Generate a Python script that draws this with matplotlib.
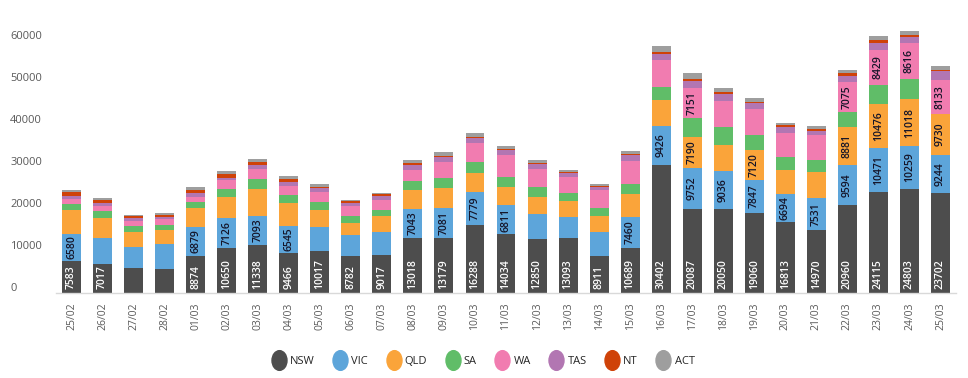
import matplotlib
matplotlib.use("Agg")
import matplotlib.pyplot as plt
from matplotlib.lines import Line2D
from matplotlib.markers import MarkerStyle
from matplotlib.transforms import Affine2D, ScaledTranslation
import numpy as np

dates = ['25/02', '26/02', '27/02', '28/02', '01/03', '02/03', '03/03', '04/03', '05/03', '06/03',
         '07/03', '08/03', '09/03', '10/03', '11/03', '12/03', '13/03', '14/03', '15/03', '16/03',
         '17/03', '18/03', '19/03', '20/03', '21/03', '22/03', '23/03', '24/03', '25/03']

NSW = [7583, 7017, 5950, 5700, 8874, 10650, 11338, 9466, 10017, 8782, 9017, 13018, 13179, 16288, 14034,
       12850, 13093, 8911, 10689, 30402, 20087, 20050, 19060, 16813, 14970, 20960, 24115, 24803, 23702]
VIC = [6580, 6000, 5000, 5950, 6879, 7126, 7093, 6545, 5800, 4920, 5470, 7043, 7081, 7779, 6811,
       5950, 5000, 5550, 7460, 9426, 9752, 9036, 7847, 6694, 7531, 9594, 10471, 10259, 9244]
QLD = [5500, 4800, 3570, 3400, 4600, 5000, 6350, 5400, 4050, 2940, 3890, 4360, 4760, 4520, 4360,
       4120, 3810, 3810, 5470, 6190, 7190, 6190, 7120, 5710, 6270, 8881, 10476, 11018, 9730]
SA = [1600, 1600, 1400, 1190, 1430, 2000, 2300, 1900, 1900, 1590, 1430, 2140, 2380, 2620, 2460,
      2220, 1830, 2060, 2300, 3020, 4520, 4200, 3490, 3250, 3010, 3650, 4440, 4760, 0]
WA = [1200, 1350, 1300, 1270, 1190, 2060, 2380, 2140, 2380, 2460, 2300, 2780, 3810, 4600, 5160,
      4440, 3970, 4120, 5550, 6350, 7151, 6350, 6190, 5710, 5790, 7075, 8429, 8616, 8133]
TAS = [700, 550, 550, 480, 800, 630, 1110, 950, 800, 630, 1030, 1110, 1190, 1110, 1110,
       1110, 950, 800, 1270, 1590, 1750, 1590, 1590, 1430, 1110, 1430, 1670, 1400, 1990]
NT = [800, 800, 480, 550, 800, 950, 710, 800, 400, 480, 400, 480, 200, 320, 320,
      320, 100, 320, 400, 480, 400, 400, 240, 320, 400, 710, 550, 500, 400]
ACT = [450, 400, 400, 400, 630, 710, 630, 630, 630, 320, 320, 630, 950, 800, 630,
       550, 630, 400, 630, 1270, 1430, 950, 950, 630, 630, 800, 1110, 1000, 800]

series_names = ['NSW', 'VIC', 'QLD', 'SA', 'WA', 'TAS', 'NT', 'ACT']
series_values = [NSW, VIC, QLD, SA, WA, TAS, NT, ACT]
colors = ['#4d4d4d', '#5da5da', '#faa43a', '#60bd68', '#f17cb0', '#b276b2', '#cf4208', '#9e9e9e']
label_threshold = 6500

plt.rcParams['font.family'] = ['Open Sans', 'DejaVu Sans']

fig = plt.figure(figsize=(9.68, 3.78), dpi=100)
ax = fig.add_axes([56 / 968, 85 / 378, 900 / 968, 273 / 378])

x = np.arange(len(dates))
bottom = np.zeros(len(dates))
width = 0.61
for name, vals, col in zip(series_names, series_values, colors):
    vals = np.array(vals, dtype=float)
    ax.bar(x, vals, width, bottom=bottom, color=col, label=name, linewidth=0)
    for xi, v, b in zip(x, vals, bottom):
        if v >= label_threshold:
            if name == 'NSW':
                ax.annotate(f"{int(v)}", (xi, b), xytext=(0, 3), textcoords='offset points',
                            rotation=90, ha='center', va='bottom', color='white',
                            fontsize=7.5, fontweight='semibold')
            else:
                ax.text(xi, b + v / 2, f"{int(v)}", rotation=90, ha='center', va='center',
                        color='#141428', fontsize=7.5, fontweight='semibold')
    bottom += vals

ax.set_xlim(-0.5, len(dates) - 0.5)
ax.set_ylim(0, 65000)
ax.set_xticks(x)
ax.set_xticklabels(dates, rotation=90, fontsize=7.5, color='#595959')
ax.set_yticks(np.arange(0, 60001, 10000))
ax.set_yticklabels([str(v) for v in range(0, 60001, 10000)], fontsize=8, color='#595959')
ax.tick_params(axis='both', length=0)
ax.tick_params(axis='x', pad=7)
ax.tick_params(axis='y', pad=33)
offset = ScaledTranslation(0, 6 / 100, fig.dpi_scale_trans)
for lab in ax.get_yticklabels():
    lab.set_horizontalalignment('left')
    lab.set_transform(lab.get_transform() + offset)

for s in ['top', 'right', 'left']:
    ax.spines[s].set_visible(False)
ax.spines['bottom'].set_color('#d9d9d9')
ax.spines['bottom'].set_linewidth(1)

marker = MarkerStyle('o', transform=Affine2D().scale(0.8, 1.05))
handles = [Line2D([], [], linestyle='', marker=marker, markersize=13.5, markerfacecolor=c,
                  markeredgecolor=c) for c in colors]
fig.legend(handles, series_names, loc='center', bbox_to_anchor=(0.5, 1 - 361 / 378), ncol=8,
           frameon=False, fontsize=8, handletextpad=0.5, columnspacing=1.8, handlelength=1.0,
           labelcolor='#262626')

fig.savefig('out.png', dpi=100)
